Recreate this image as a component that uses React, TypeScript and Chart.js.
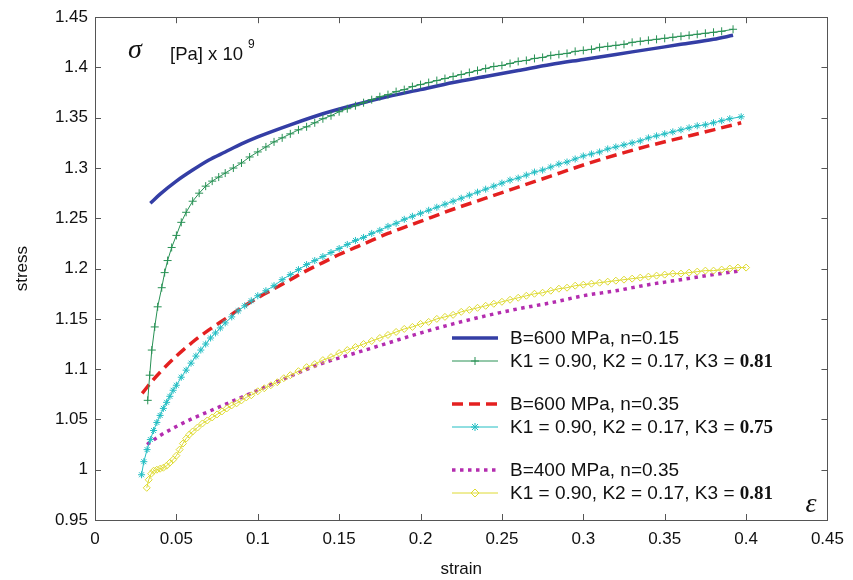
import React, { useEffect, useRef } from 'react';
import { Chart, registerables } from 'chart.js';

Chart.register(...registerables);

// ---- data (strain, stress [Pa] x 1e9) ----
const strainBlue = [0.034, 0.04, 0.05, 0.06, 0.07, 0.08, 0.09, 0.1, 0.12, 0.14, 0.16, 0.18, 0.2, 0.22, 0.24, 0.26, 0.28, 0.3, 0.32, 0.34, 0.36, 0.38, 0.392];
const stressBlue = [1.265, 1.274, 1.287, 1.298, 1.308, 1.316, 1.324, 1.331, 1.343, 1.354, 1.363, 1.371, 1.378, 1.385, 1.391, 1.397, 1.403, 1.408, 1.413, 1.418, 1.423, 1.428, 1.432];

const strainGreen = [0.0324, 0.0336, 0.0349, 0.0367, 0.0385, 0.041, 0.0428, 0.0446, 0.0471, 0.05, 0.053, 0.056, 0.06, 0.064, 0.068, 0.072, 0.076, 0.08, 0.085, 0.09, 0.095, 0.1, 0.105, 0.11, 0.115, 0.12, 0.125, 0.13, 0.135, 0.14, 0.145, 0.15, 0.155, 0.16, 0.165, 0.17, 0.175, 0.18, 0.185, 0.19, 0.195, 0.2, 0.205, 0.21, 0.215, 0.22, 0.225, 0.23, 0.235, 0.24, 0.245, 0.25, 0.255, 0.26, 0.265, 0.27, 0.275, 0.28, 0.285, 0.29, 0.295, 0.3, 0.305, 0.31, 0.315, 0.32, 0.325, 0.33, 0.335, 0.34, 0.345, 0.35, 0.355, 0.36, 0.365, 0.37, 0.375, 0.38, 0.385, 0.392];
const stressGreen = [1.069, 1.094, 1.119, 1.142, 1.162, 1.181, 1.196, 1.208, 1.221, 1.233, 1.246, 1.256, 1.267, 1.275, 1.282, 1.287, 1.291, 1.295, 1.3, 1.305, 1.311, 1.316, 1.321, 1.326, 1.33, 1.334, 1.338, 1.341, 1.345, 1.349, 1.352, 1.356, 1.359, 1.362, 1.365, 1.368, 1.371, 1.373, 1.376, 1.378, 1.381, 1.383, 1.385, 1.387, 1.389, 1.391, 1.393, 1.395, 1.397, 1.399, 1.401, 1.402, 1.404, 1.406, 1.407, 1.409, 1.41, 1.412, 1.413, 1.414, 1.416, 1.417, 1.418, 1.42, 1.421, 1.422, 1.423, 1.425, 1.426, 1.427, 1.428, 1.429, 1.43, 1.431, 1.432, 1.433, 1.434, 1.435, 1.436, 1.438];

const strainRed = [0.029, 0.035, 0.04, 0.05, 0.06, 0.07, 0.08, 0.09, 0.1, 0.11, 0.12, 0.13, 0.14, 0.15, 0.16, 0.17, 0.18, 0.19, 0.2, 0.22, 0.24, 0.26, 0.28, 0.3, 0.32, 0.34, 0.36, 0.38, 0.397];
const stressRed = [1.076, 1.088, 1.097, 1.113, 1.127, 1.139, 1.15, 1.161, 1.171, 1.18, 1.189, 1.198, 1.206, 1.214, 1.221, 1.228, 1.235, 1.241, 1.247, 1.259, 1.27, 1.281, 1.292, 1.303, 1.313, 1.322, 1.33, 1.338, 1.345];

const strainCyan = [0.0286, 0.03, 0.032, 0.034, 0.036, 0.038, 0.04, 0.042, 0.044, 0.046, 0.048, 0.05, 0.053, 0.056, 0.059, 0.062, 0.065, 0.068, 0.071, 0.074, 0.077, 0.08, 0.084, 0.088, 0.092, 0.096, 0.1, 0.105, 0.11, 0.115, 0.12, 0.125, 0.13, 0.135, 0.14, 0.145, 0.15, 0.155, 0.16, 0.165, 0.17, 0.175, 0.18, 0.185, 0.19, 0.195, 0.2, 0.205, 0.21, 0.215, 0.22, 0.225, 0.23, 0.235, 0.24, 0.245, 0.25, 0.255, 0.26, 0.265, 0.27, 0.275, 0.28, 0.285, 0.29, 0.295, 0.3, 0.305, 0.31, 0.315, 0.32, 0.325, 0.33, 0.335, 0.34, 0.345, 0.35, 0.355, 0.36, 0.365, 0.37, 0.375, 0.38, 0.385, 0.39, 0.397];
const stressCyan = [0.995, 1.008, 1.02, 1.03, 1.039, 1.047, 1.054, 1.061, 1.067, 1.073, 1.079, 1.084, 1.092, 1.099, 1.106, 1.113, 1.119, 1.125, 1.131, 1.136, 1.141, 1.146, 1.152, 1.158, 1.163, 1.168, 1.173, 1.178, 1.183, 1.189, 1.194, 1.199, 1.204, 1.208, 1.212, 1.216, 1.22, 1.224, 1.228, 1.231, 1.235, 1.238, 1.242, 1.245, 1.249, 1.252, 1.255, 1.258, 1.261, 1.264, 1.267, 1.27, 1.273, 1.276, 1.279, 1.282, 1.285, 1.288, 1.29, 1.293, 1.296, 1.298, 1.301, 1.304, 1.306, 1.309, 1.312, 1.314, 1.316, 1.319, 1.321, 1.323, 1.325, 1.327, 1.33, 1.332, 1.334, 1.336, 1.338, 1.34, 1.342, 1.343, 1.345, 1.347, 1.349, 1.351];

const strainMagenta = [0.032, 0.04, 0.05, 0.06, 0.07, 0.08, 0.09, 0.1, 0.12, 0.14, 0.16, 0.18, 0.2, 0.22, 0.24, 0.26, 0.28, 0.3, 0.32, 0.34, 0.36, 0.38, 0.397];
const stressMagenta = [1.025, 1.034, 1.043, 1.051, 1.058, 1.065, 1.072, 1.079, 1.093, 1.106, 1.116, 1.126, 1.136, 1.145, 1.153, 1.16, 1.166, 1.173, 1.178, 1.184, 1.189, 1.194, 1.198];

const strainYellow = [0.0318, 0.033, 0.0345, 0.036, 0.038, 0.04, 0.042, 0.044, 0.046, 0.048, 0.05, 0.052, 0.054, 0.056, 0.058, 0.06, 0.063, 0.066, 0.069, 0.072, 0.075, 0.078, 0.081, 0.084, 0.087, 0.09, 0.093, 0.096, 0.1, 0.104, 0.108, 0.112, 0.116, 0.12, 0.125, 0.13, 0.135, 0.14, 0.145, 0.15, 0.155, 0.16, 0.165, 0.17, 0.175, 0.18, 0.185, 0.19, 0.195, 0.2, 0.205, 0.21, 0.215, 0.22, 0.225, 0.23, 0.235, 0.24, 0.245, 0.25, 0.255, 0.26, 0.265, 0.27, 0.275, 0.28, 0.285, 0.29, 0.295, 0.3, 0.305, 0.31, 0.315, 0.32, 0.325, 0.33, 0.335, 0.34, 0.345, 0.35, 0.355, 0.36, 0.365, 0.37, 0.375, 0.38, 0.385, 0.39, 0.395, 0.4];
const stressYellow = [0.982, 0.99, 0.996, 0.999, 1.0, 1.001, 1.002, 1.004, 1.007, 1.01, 1.014, 1.02, 1.026, 1.031, 1.035, 1.038, 1.042, 1.046, 1.049, 1.052, 1.055, 1.058, 1.061, 1.064, 1.066, 1.069, 1.072, 1.074, 1.078, 1.081, 1.084, 1.087, 1.091, 1.094, 1.098, 1.102, 1.105, 1.109, 1.112, 1.116, 1.119, 1.122, 1.125, 1.128, 1.131, 1.134, 1.137, 1.14, 1.142, 1.145, 1.147, 1.15, 1.152, 1.154, 1.157, 1.159, 1.161, 1.163, 1.165, 1.167, 1.169, 1.171, 1.173, 1.175, 1.176, 1.178, 1.18, 1.181, 1.183, 1.184, 1.185, 1.186, 1.187, 1.188, 1.189, 1.19, 1.191, 1.192, 1.193, 1.194, 1.195, 1.195, 1.196, 1.197, 1.198, 1.198, 1.199, 1.2, 1.201, 1.201];

const xTickValues = [0, 0.05, 0.1, 0.15, 0.2, 0.25, 0.3, 0.35, 0.4, 0.45];
const xTickLabels = ['0', '0.05', '0.1', '0.15', '0.2', '0.25', '0.3', '0.35', '0.4', '0.45'];
const yTickValues = [0.95, 1, 1.05, 1.1, 1.15, 1.2, 1.25, 1.3, 1.35, 1.4, 1.45];
const yTickLabels = ['0.95', '1', '1.05', '1.1', '1.15', '1.2', '1.25', '1.3', '1.35', '1.4', '1.45'];

const legendLabels = [
  'B=600 MPa, n=0.15',
  'K1 = 0.90, K2 = 0.17, K3 = ',
  'B=600 MPa, n=0.35',
  'K1 = 0.90, K2 = 0.17, K3 = ',
  'B=400 MPa, n=0.35',
  'K1 = 0.90, K2 = 0.17, K3 = ',
];
const legendBold = ['', '0.81', '', '0.75', '', '0.81'];

const C_BLUE = 'rgb(52,62,165)';
const C_GREEN = 'rgb(40,145,85)';
const C_RED = 'rgb(228,32,32)';
const C_CYAN = 'rgb(35,190,195)';
const C_MAGENTA = 'rgb(180,45,175)';
const C_YELLOW = 'rgb(222,218,50)';

const SANS = '"Liberation Sans", Arial, sans-serif';
const SERIF = '"Liberation Serif", "Times New Roman", serif';

const pts = (xs: number[], ys: number[]) => xs.map((x, i) => ({ x, y: ys[i] }));

function drawMarker(ctx: CanvasRenderingContext2D, kind: string, x: number, y: number, color: string) {
  ctx.save();
  ctx.strokeStyle = color;
  ctx.lineWidth = 1;
  ctx.beginPath();
  if (kind === 'cross') {
    ctx.moveTo(x - 4, y); ctx.lineTo(x + 4, y);
    ctx.moveTo(x, y - 4); ctx.lineTo(x, y + 4);
  } else if (kind === 'star') {
    ctx.moveTo(x - 4, y); ctx.lineTo(x + 4, y);
    ctx.moveTo(x, y - 4); ctx.lineTo(x, y + 4);
    ctx.moveTo(x - 3, y - 3); ctx.lineTo(x + 3, y + 3);
    ctx.moveTo(x - 3, y + 3); ctx.lineTo(x + 3, y - 3);
  } else if (kind === 'diamond') {
    ctx.moveTo(x, y - 4); ctx.lineTo(x + 4, y); ctx.lineTo(x, y + 4); ctx.lineTo(x - 4, y); ctx.closePath();
  }
  ctx.stroke();
  ctx.restore();
}

const decorPlugin = {
  id: 'decor',
  afterDraw(chart: any) {
    const ctx: CanvasRenderingContext2D = chart.ctx;
    const { left, right, top, bottom } = chart.chartArea;
    const xs = chart.scales.x;
    const ys = chart.scales.y;
    ctx.save();
    // frame
    ctx.strokeStyle = '#555';
    ctx.lineWidth = 1;
    ctx.strokeRect(Math.round(left) + 0.5, Math.round(top) + 0.5, Math.round(right - left), Math.round(bottom - top));
    // inward ticks
    ctx.beginPath();
    xTickValues.forEach((v) => {
      const px = Math.round(xs.getPixelForValue(v)) + 0.5;
      ctx.moveTo(px, bottom); ctx.lineTo(px, bottom - 6);
      ctx.moveTo(px, top); ctx.lineTo(px, top + 6);
    });
    yTickValues.forEach((v) => {
      const py = Math.round(ys.getPixelForValue(v)) + 0.5;
      ctx.moveTo(left, py); ctx.lineTo(left + 6, py);
      ctx.moveTo(right, py); ctx.lineTo(right - 6, py);
    });
    ctx.stroke();

    // sigma label
    ctx.fillStyle = '#111';
    ctx.textBaseline = 'alphabetic';
    ctx.textAlign = 'left';
    ctx.font = `italic 28px ${SERIF}`;
    ctx.fillText('σ', left + 33, top + 41);
    ctx.font = `18.5px ${SANS}`;
    ctx.fillText('[Pa] x 10', left + 75, top + 43);
    ctx.font = `12px ${SANS}`;
    ctx.fillText('9', left + 153, top + 31);
    // epsilon label
    ctx.font = `italic 28px ${SERIF}`;
    ctx.fillText('ε', right - 22, bottom - 8);

    // legend
    const rowsY = [338, 361, 404, 427, 470, 493];
    const x0 = 452, x1 = 498, tx = 510;
    const samples = [
      { color: C_BLUE, width: 3.5, dash: [] as number[], marker: '' },
      { color: C_GREEN, width: 1, dash: [], marker: 'cross' },
      { color: C_RED, width: 3.5, dash: [11, 6], marker: '' },
      { color: C_CYAN, width: 1, dash: [], marker: 'star' },
      { color: C_MAGENTA, width: 3.5, dash: [3.5, 4.5], marker: '' },
      { color: C_YELLOW, width: 1, dash: [], marker: 'diamond' },
    ];
    samples.forEach((s, i) => {
      const y = rowsY[i];
      ctx.save();
      ctx.strokeStyle = s.color;
      ctx.lineWidth = s.width;
      ctx.setLineDash(s.dash);
      ctx.beginPath();
      ctx.moveTo(x0, y); ctx.lineTo(x1, y);
      ctx.stroke();
      ctx.restore();
      if (s.marker) drawMarker(ctx, s.marker, (x0 + x1) / 2, y, s.color);
      ctx.fillStyle = '#111';
      ctx.textBaseline = 'middle';
      ctx.font = `19px ${SANS}`;
      ctx.fillText(legendLabels[i], tx, y + 1);
      if (legendBold[i]) {
        const w = ctx.measureText(legendLabels[i]).width;
        ctx.font = `bold 19px ${SERIF}`;
        ctx.fillText(legendBold[i], tx + w, y + 1);
      }
    });
    ctx.restore();
  },
};

export default function App() {
  const ref = useRef<HTMLCanvasElement>(null);
  useEffect(() => {
    document.body.style.margin = '0';
    const canvas = ref.current!;
    const chart = new Chart(canvas, {
      type: 'line',
      data: {
        datasets: [
          {
            label: 'K1 = 0.90, K2 = 0.17, K3 = 0.81 (B=400)',
            data: pts(strainYellow, stressYellow),
            borderColor: C_YELLOW, borderWidth: 1,
            pointStyle: 'rectRot', pointRadius: 3.5, pointBorderColor: C_YELLOW,
            pointBackgroundColor: 'rgba(0,0,0,0)', pointBorderWidth: 1, tension: 0,
          },
          {
            label: 'K1 = 0.90, K2 = 0.17, K3 = 0.75',
            data: pts(strainCyan, stressCyan),
            borderColor: C_CYAN, borderWidth: 1,
            pointStyle: 'star', pointRadius: 3.5, pointBorderColor: C_CYAN, pointBorderWidth: 1, tension: 0,
          },
          {
            label: 'K1 = 0.90, K2 = 0.17, K3 = 0.81',
            data: pts(strainGreen, stressGreen),
            borderColor: C_GREEN, borderWidth: 1,
            pointStyle: 'cross', pointRadius: 4, pointBorderColor: C_GREEN, pointBorderWidth: 1, tension: 0,
          },
          {
            label: 'B=600 MPa, n=0.15',
            data: pts(strainBlue, stressBlue),
            borderColor: C_BLUE, borderWidth: 3.5, pointRadius: 0, cubicInterpolationMode: 'monotone',
          },
          {
            label: 'B=600 MPa, n=0.35',
            data: pts(strainRed, stressRed),
            borderColor: C_RED, borderWidth: 3.5, borderDash: [11, 6], pointRadius: 0, cubicInterpolationMode: 'monotone',
          },
          {
            label: 'B=400 MPa, n=0.35',
            data: pts(strainMagenta, stressMagenta),
            borderColor: C_MAGENTA, borderWidth: 3.5, borderDash: [3.5, 4.5], pointRadius: 0, cubicInterpolationMode: 'monotone',
          },
        ],
      },
      options: {
        animation: false,
        responsive: false,
        events: [],
        layout: { padding: { top: 17, right: 23, left: 0, bottom: 0 } },
        plugins: { legend: { display: false }, tooltip: { enabled: false } },
        scales: {
          x: {
            type: 'linear', min: 0, max: 0.45,
            grid: { display: false, drawTicks: false },
            border: { display: false },
            afterBuildTicks: (scale: any) => { scale.ticks = xTickValues.map((v) => ({ value: v })); },
            afterFit: (scale: any) => { scale.height = 60; },
            ticks: {
              padding: 9, color: '#111', maxRotation: 0, autoSkip: false,
              font: { family: SANS, size: 17 },
              callback: (_v: any, i: number) => xTickLabels[i],
            },
            title: { display: true, text: 'strain', color: '#111', font: { family: SANS, size: 17 }, padding: { top: 0, bottom: 0 } },
          },
          y: {
            type: 'linear', min: 0.95, max: 1.45,
            grid: { display: false, drawTicks: false },
            border: { display: false },
            afterBuildTicks: (scale: any) => { scale.ticks = yTickValues.map((v) => ({ value: v })); },
            afterFit: (scale: any) => { scale.width = 95; },
            ticks: {
              padding: 7, color: '#111', autoSkip: false,
              font: { family: SANS, size: 17 },
              callback: (_v: any, i: number) => yTickLabels[i],
            },
            title: { display: true, text: 'stress', color: '#111', font: { family: SANS, size: 17 }, padding: { top: 12, bottom: 0 } },
          },
        },
      },
      plugins: [decorPlugin],
    } as any);
    return () => chart.destroy();
  }, []);
  return (
    <div style={{ width: 853, height: 580, background: '#fff' }}>
      <canvas ref={ref} width={853} height={580} style={{ display: 'block' }} />
    </div>
  );
}
